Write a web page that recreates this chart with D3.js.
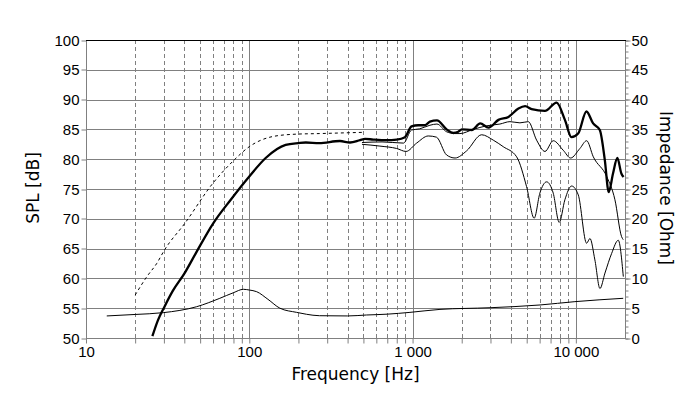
<!DOCTYPE html>
<html>
<head>
<meta charset="utf-8">
<script src="https://cdn.jsdelivr.net/npm/d3@7"></script>
<style>
  body { margin: 0; background: #fff; }
  svg { display: block; font-family: "DejaVu Sans", Verdana, sans-serif; }
</style>
</head>
<body>
<svg id="chart" width="700" height="399"></svg>
<script>
// on-axis response (thick line)
const onAxisFreq = [25.5, 27.6, 30.3, 34, 40, 47, 60, 77, 100, 126, 167, 200, 222, 268, 359, 414, 477, 512, 574, 693, 799, 898, 986, 1083, 1190, 1278, 1410, 1617, 1775, 1905, 2004, 2307, 2595, 2917, 3358, 3866, 4450, 4888, 5360, 6470, 7620, 8570, 9400, 10330, 11610, 12760, 14020, 15040, 15900, 16890, 17950, 19000, 19600];
const onAxisSpl = [50.3, 53.0, 55.3, 57.9, 60.8, 64.2, 69.2, 73.2, 77.1, 80.2, 82.4, 82.7, 82.8, 82.7, 83.05, 82.8, 83.2, 83.4, 83.3, 83.2, 83.3, 83.7, 85.5, 85.7, 85.7, 86.3, 86.5, 85.0, 84.4, 84.6, 85.0, 84.9, 86.0, 85.3, 86.6, 87.1, 88.5, 88.9, 88.4, 88.1, 89.5, 86.6, 83.7, 84.3, 88.0, 86.0, 84.9, 79.9, 74.5, 77.6, 80.2, 77.6, 77.0];

// low frequency model (dashed)
const lowFreq = [20, 23.6, 27.1, 30.3, 40.2, 60, 79, 100, 139, 193, 268, 360, 490];
const lowSpl = [57.2, 60.3, 62.5, 64.8, 69.2, 76.0, 79.6, 82.1, 83.8, 84.2, 84.3, 84.4, 84.5];

// off-axis 1 (thin)
const off1Freq = [490, 650, 880, 986, 1107, 1278, 1410, 1617, 1821, 1950, 2353, 2840, 3428, 3948, 4545, 5112, 5750, 6470, 7270, 8370, 9290, 10590, 11640, 12790, 15450, 17350, 19060, 19500];
const off1Spl = [82.8, 82.9, 82.7, 84.9, 85.1, 85.7, 85.9, 84.6, 84.3, 84.3, 85.0, 85.6, 85.9, 86.3, 86.1, 86.3, 83.2, 81.3, 83.1, 81.5, 80.2, 81.8, 83.1, 80.4, 77.1, 73.2, 67.0, 66.5];

// off-axis 2 (thin)
const off2Freq = [490, 631, 799, 912, 1059, 1248, 1400, 1617, 1821, 2143, 2649, 3120, 3592, 4339, 4991, 5555, 6020, 6620, 7270, 7910, 8570, 9420, 10350, 11640, 12200, 13080, 14050, 15080, 16570, 18190, 19530];
const off2Spl = [82.5, 82.2, 81.8, 81.3, 82.7, 83.9, 83.7, 80.7, 80.2, 81.4, 84.1, 83.2, 82.1, 80.4, 75.4, 70.1, 74.3, 76.2, 74.3, 69.4, 73.2, 75.5, 74.0, 65.9, 66.7, 63.1, 58.3, 60.9, 64.2, 66.4, 60.3];

// impedance (right axis)
const impFreq = [13.4, 20, 29.7, 47.6, 66, 80, 92, 100, 111, 130, 154, 195, 224, 269, 400, 523, 700, 964, 1472, 2980, 6030, 9870, 19500];
const impOhm = [3.7, 3.95, 4.25, 5.25, 6.66, 7.6, 8.17, 8.05, 7.77, 6.5, 5.0, 4.3, 3.98, 3.74, 3.7, 3.86, 4.0, 4.3, 4.8, 5.08, 5.54, 6.1, 6.66];

const splTicks = d3.range(50, 101, 5);
const ohmTicks = d3.range(0, 51, 5);
const freqLabels = {10: "10", 100: "100", 1000: "1 000", 10000: "10 000"};

const width = 700, height = 399;
const margin = {top: 40, right: 75, bottom: 61, left: 86};

const x = d3.scaleLog().domain([10, 20000]).range([margin.left, width - margin.right]);
const yL = d3.scaleLinear().domain([50, 100]).range([height - margin.bottom, margin.top]);
const yR = d3.scaleLinear().domain([0, 50]).range([height - margin.bottom, margin.top]);

const gridFreq = [];
[10, 100, 1000, 10000].forEach(d => { for (let k = 1; k < 10; k++) if (d * k < 20000) gridFreq.push(d * k); });

const px = v => Math.round(v) + 0.5;
const svg = d3.select("#chart");
const x0 = margin.left, x1 = width - margin.right;
const y0 = height - margin.bottom, y1 = margin.top;

// vertical grid
svg.append("g")
  .selectAll("line")
  .data(gridFreq.filter(f => f > 10))
  .join("line")
    .attr("x1", d => px(x(d)))
    .attr("x2", d => px(x(d)))
    .attr("y1", y1)
    .attr("y2", y0)
    .attr("stroke", "#808080")
    .attr("stroke-dasharray", d => [100, 1000, 10000].includes(d) ? null : "4,3");

// horizontal grid
svg.append("g")
  .selectAll("line")
  .data(splTicks)
  .join("line")
    .attr("x1", x0)
    .attr("x2", x1)
    .attr("y1", d => px(yL(d)))
    .attr("y2", d => px(yL(d)))
    .attr("stroke", d => d === 100 ? "#000" : "#808080");

// axes
svg.append("g")
  .attr("transform", `translate(${px(x0)},0)`)
  .call(d3.axisLeft(yL).tickValues(splTicks).tickSize(5).tickPadding(2));

svg.append("g")
  .attr("transform", `translate(0,${px(y0)})`)
  .call(d3.axisBottom(x).tickValues(gridFreq).tickSize(5).tickPadding(3)
    .tickFormat(d => freqLabels[d] || ""));

svg.append("g")
  .attr("transform", `translate(${px(x1)},0)`)
  .call(d3.axisRight(yR).tickValues(d3.range(0, 51, 1)).tickSize(3).tickFormat(""));

svg.append("g")
  .attr("transform", `translate(${px(x1)},0)`)
  .call(d3.axisRight(yR).tickValues(ohmTicks).tickSize(5).tickPadding(1));

svg.selectAll(".domain").remove();
svg.selectAll(".tick line").attr("stroke", "#808080");
svg.selectAll(".tick text").attr("font-size", 15).attr("font-family", null).attr("fill", "#000");
svg.selectAll(".tick").each(function() {
  const t = d3.select(this).attr("transform");
  d3.select(this).attr("transform", t.replace(/([\d.]+)\)/, (m, v) => Math.round(+v) + ")"));
});

// frame
svg.append("line").attr("x1", px(x0)).attr("x2", px(x0)).attr("y1", y1).attr("y2", y0 + 1).attr("stroke", "#808080");
svg.append("line").attr("x1", px(x1)).attr("x2", px(x1)).attr("y1", y1).attr("y2", y0 + 1).attr("stroke", "#808080");
svg.append("line").attr("x1", x0).attr("x2", x1 + 1).attr("y1", px(y1)).attr("y2", px(y1)).attr("stroke", "#000");

// curves
svg.append("clipPath").attr("id", "plot")
  .append("rect").attr("x", x0).attr("y", y1).attr("width", x1 - x0).attr("height", y0 - y1);

const plot = svg.append("g").attr("clip-path", "url(#plot)");
const zip = (fs, vs) => fs.map((f, i) => ({f, v: vs[i]}));
const lineL = d3.line().x(d => x(d.f)).y(d => yL(d.v)).curve(d3.curveMonotoneX);
const lineR = d3.line().x(d => x(d.f)).y(d => yR(d.v)).curve(d3.curveMonotoneX);

plot.append("path").attr("d", lineR(zip(impFreq, impOhm)))
  .attr("fill", "none").attr("stroke", "#000").attr("stroke-width", 1);
plot.append("path").attr("d", lineL(zip(lowFreq, lowSpl)))
  .attr("fill", "none").attr("stroke", "#000").attr("stroke-width", 1).attr("stroke-dasharray", "3,3");
plot.append("path").attr("d", lineL(zip(off2Freq, off2Spl)))
  .attr("fill", "none").attr("stroke", "#000").attr("stroke-width", 1);
plot.append("path").attr("d", lineL(zip(off1Freq, off1Spl)))
  .attr("fill", "none").attr("stroke", "#000").attr("stroke-width", 1);
plot.append("path").attr("d", lineL(zip(onAxisFreq, onAxisSpl)))
  .attr("fill", "none").attr("stroke", "#000").attr("stroke-width", 2.3);

// axis titles
svg.append("text")
  .attr("x", (x0 + x1) / 2)
  .attr("y", 380)
  .attr("text-anchor", "middle")
  .attr("font-size", 17)
  .text("Frequency [Hz]");

svg.append("text")
  .attr("transform", "translate(33,188) rotate(-90)")
  .attr("text-anchor", "middle")
  .attr("dy", "0.36em")
  .attr("font-size", 17)
  .text("SPL [dB]");

svg.append("text")
  .attr("transform", "translate(666,188) rotate(90)")
  .attr("text-anchor", "middle")
  .attr("dy", "0.36em")
  .attr("font-size", 17)
  .text("Impedance [Ohm]");
</script>
</body>
</html>
